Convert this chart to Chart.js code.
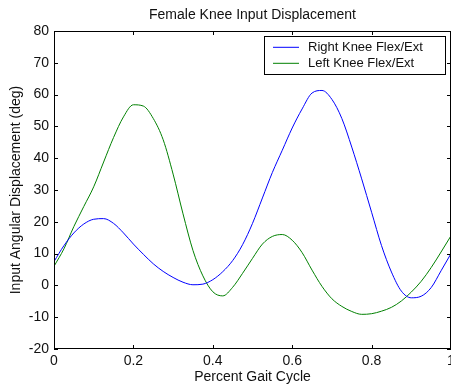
<!DOCTYPE html>
<html>
<head>
<meta charset="utf-8">
<script src="https://cdn.jsdelivr.net/npm/chart.js@4/dist/chart.umd.min.js"></script>
<style>
  html, body { margin: 0; padding: 0; background: #fff; }
  #wrap { width: 451px; height: 388px; }
</style>
</head>
<body>
<div id="wrap"><canvas id="chart"></canvas></div>
<script>
// Percent of gait cycle (x), sampled every 0.025
const gaitCycle = [
  0, 0.025, 0.05, 0.075, 0.1, 0.125, 0.15, 0.175, 0.2, 0.225,
  0.25, 0.275, 0.3, 0.325, 0.35, 0.375, 0.4, 0.425, 0.45, 0.475,
  0.5, 0.525, 0.55, 0.575, 0.6, 0.625, 0.65, 0.675, 0.7, 0.725,
  0.75, 0.775, 0.8, 0.825, 0.85, 0.875, 0.9, 0.925, 0.95, 0.975, 1
];
// Angular displacement (deg)
const rightKnee = [
  7.5, 12.5, 16.5, 19.3, 20.8, 21.0, 19.5, 16.5, 13.0, 9.8,
  6.8, 4.4, 2.5, 1.0, 0.2, 0.4, 1.8, 4.3, 7.8, 12.8,
  19.5, 27.5, 35.5, 42.5, 49.5, 55.5, 60.5, 61.3, 58.5, 52.5,
  43.5, 33.5, 23.0, 12.5, 4.2, -1.8, -3.9, -3.4, -0.7, 4.6, 10.0
];
const leftKnee = [
  6.0, 11.5, 18.5, 24.8, 31.0, 38.8, 46.5, 53.0, 56.8, 56.4,
  52.5, 45.8, 35.0, 22.5, 11.0, 3.0, -2.0, -3.3, -0.6, 3.8,
  8.5, 13.0, 15.4, 16.0, 14.2, 10.3, 4.8, -0.3, -4.2, -6.6,
  -8.2, -9.1, -8.9, -8.1, -6.9, -4.9, -2.1, 1.3, 5.6, 10.5, 15.6
];
const xTicks = [0, 0.2, 0.4, 0.6, 0.8, 1];
const yTicks = [-20, -10, 0, 10, 20, 30, 40, 50, 60, 70, 80];
const chartTitle = 'Female Knee Input Displacement';

const RIGHT_COLOR = '#0000ff';
const LEFT_COLOR = '#008000';
const FAMILY = '"Liberation Sans", Arial, sans-serif';
const FONT = { family: FAMILY, size: 14 };
const TEXT = '#111';

const toPoints = (ys) => gaitCycle.map((x, i) => ({ x, y: ys[i] }));

// MATLAB style box with inward ticks on all four sides, title over the axes
const boxTicks = {
  id: 'boxTicks',
  afterDatasetsDraw(chart) {
    const { ctx, chartArea: a, scales: { x, y } } = chart;
    ctx.save();
    ctx.strokeStyle = '#000';
    ctx.lineWidth = 1;
    ctx.strokeRect(a.left + 0.5, a.top + 0.5, a.width - 1, a.height - 1);
    ctx.beginPath();
    xTicks.forEach(v => {
      const px = Math.round(x.getPixelForValue(v)) + 0.5;
      ctx.moveTo(px, a.top); ctx.lineTo(px, a.top + 4);
      ctx.moveTo(px, a.bottom); ctx.lineTo(px, a.bottom - 4);
    });
    yTicks.forEach(v => {
      const py = Math.round(y.getPixelForValue(v)) + 0.5;
      ctx.moveTo(a.left, py); ctx.lineTo(a.left + 4, py);
      ctx.moveTo(a.right, py); ctx.lineTo(a.right - 4, py);
    });
    ctx.stroke();

    ctx.font = `${FONT.size}px ${FAMILY}`;
    ctx.fillStyle = TEXT;
    ctx.textAlign = 'center';
    ctx.textBaseline = 'middle';
    ctx.fillText(chartTitle, (a.left + a.right) / 2, 15);
    ctx.restore();
  }
};

// legend drawn as a boxed inset in the upper right of the axes
const insetLegend = {
  id: 'insetLegend',
  afterDraw(chart) {
    const { ctx } = chart;
    const bx = 264.5, by = 36.5, bw = 181, bh = 38;
    ctx.save();
    ctx.fillStyle = '#fff';
    ctx.fillRect(bx, by, bw, bh);
    ctx.strokeStyle = '#000';
    ctx.lineWidth = 1;
    ctx.strokeRect(bx, by, bw, bh);
    ctx.font = `13px ${FAMILY}`;
    ctx.textBaseline = 'middle';
    const items = [
      { label: chart.data.datasets[0].label, color: RIGHT_COLOR },
      { label: chart.data.datasets[1].label, color: LEFT_COLOR }
    ];
    items.forEach((it, i) => {
      const ly = 47.3 + i * 16;
      ctx.beginPath();
      ctx.strokeStyle = it.color;
      ctx.lineWidth = 1;
      ctx.moveTo(273, ly);
      ctx.lineTo(299, ly);
      ctx.stroke();
      ctx.fillStyle = TEXT;
      ctx.fillText(it.label, 308, ly + 0.5);
    });
    ctx.restore();
  }
};

new Chart(document.getElementById('chart'), {
  type: 'line',
  data: {
    datasets: [
      { label: 'Right Knee Flex/Ext', data: toPoints(rightKnee), borderColor: RIGHT_COLOR, borderWidth: 1, pointRadius: 0, cubicInterpolationMode: 'monotone', fill: false },
      { label: 'Left Knee Flex/Ext', data: toPoints(leftKnee), borderColor: LEFT_COLOR, borderWidth: 1, pointRadius: 0, cubicInterpolationMode: 'monotone', fill: false }
    ]
  },
  options: {
    responsive: true,
    maintainAspectRatio: false,
    animation: false,
    events: [],
    layout: { padding: { left: 0, right: 0, top: 31, bottom: 0 } },
    plugins: {
      legend: { display: false },
      tooltip: { enabled: false },
      title: { display: false }
    },
    scales: {
      x: {
        type: 'linear',
        min: 0, max: 1,
        afterBuildTicks: (s) => { s.ticks = xTicks.map(v => ({ value: v })); },
        afterFit: (s) => { s.height = 39; s.paddingLeft = 0; s.paddingRight = 0; },
        grid: { display: false, drawTicks: false },
        border: { display: false },
        ticks: { color: TEXT, font: FONT, padding: 4, maxRotation: 0, callback: (v) => String(v) },
        title: { display: true, text: 'Percent Gait Cycle', color: TEXT, font: FONT, padding: { top: 0, bottom: 2 } }
      },
      y: {
        type: 'linear',
        min: -20, max: 80,
        afterBuildTicks: (s) => { s.ticks = yTicks.map(v => ({ value: v })); },
        afterFit: (s) => { s.width = 54; s.paddingTop = 0; s.paddingBottom = 0; },
        grid: { display: false, drawTicks: false },
        border: { display: false },
        ticks: { color: TEXT, font: FONT, padding: 5 },
        title: { display: true, text: 'Input Angular Displacement (deg)', color: TEXT, font: FONT, padding: { top: 7.5, bottom: 0 } }
      }
    }
  },
  plugins: [boxTicks, insetLegend]
});
</script>
</body>
</html>
